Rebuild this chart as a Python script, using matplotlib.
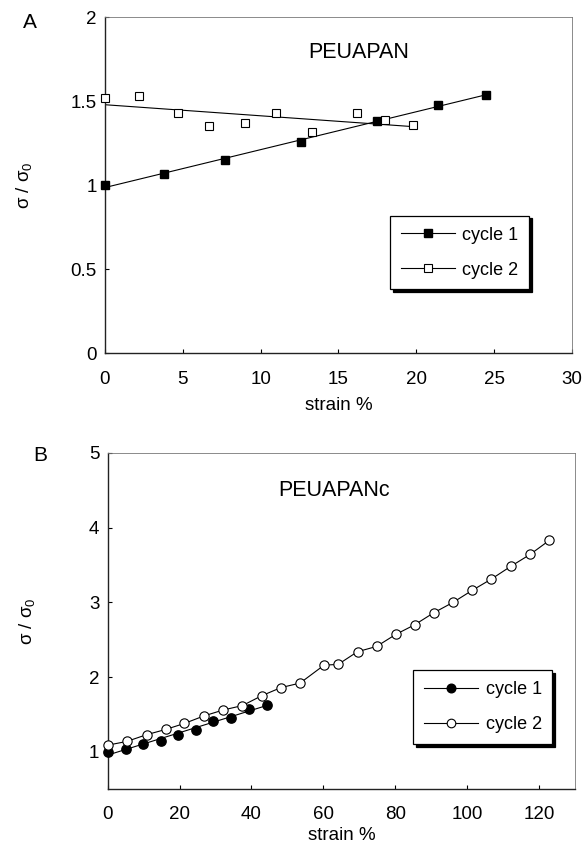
import numpy as np
import matplotlib
matplotlib.use("Agg")
import matplotlib.pyplot as plt

plt.rcParams['font.family'] = ['Liberation Sans', 'DejaVu Sans']
plt.rcParams['mathtext.fontset'] = 'custom'
plt.rcParams['mathtext.rm'] = 'Liberation Sans'
plt.rcParams['mathtext.it'] = 'Liberation Sans'

# Panel A data (PEUAPAN)
a_c1_x = [0, 3.8, 7.7, 12.6, 17.5, 21.4, 24.5]
a_c1_y = [1.00, 1.07, 1.15, 1.26, 1.38, 1.48, 1.54]
a_c2_x = [0, 2.2, 4.7, 6.7, 9.0, 11.0, 13.3, 16.2, 18.0, 19.8]
a_c2_y = [1.52, 1.53, 1.43, 1.35, 1.37, 1.43, 1.32, 1.43, 1.39, 1.36]

# Panel B data (PEUAPANc)
b_c1_x = [0, 5.0, 9.8, 14.8, 19.6, 24.6, 29.4, 34.3, 39.4, 44.2]
b_c1_y = [1.00, 1.04, 1.10, 1.15, 1.22, 1.29, 1.42, 1.46, 1.58, 1.63]
b_c2_x = [0, 5.3, 10.8, 16.1, 21.3, 26.7, 32.1, 37.5, 42.8, 48.2, 53.5, 60.2,
          64.1, 69.5, 74.8, 80.1, 85.4, 90.7, 96.1, 101.4, 106.7, 112.1, 117.5, 122.9]
b_c2_y = [1.09, 1.14, 1.23, 1.30, 1.38, 1.48, 1.56, 1.62, 1.75, 1.86, 1.92, 2.16,
          2.17, 2.34, 2.41, 2.57, 2.70, 2.86, 3.00, 3.16, 3.31, 3.48, 3.64, 3.83]

legend_labels = ["cycle 1", "cycle 2"]

FS = 13.5
fig = plt.figure(figsize=(5.83, 8.47), dpi=100)
axA = fig.add_axes([0.1801, 0.5829, 0.8010, 0.3967])
axB = fig.add_axes([0.1847, 0.0681, 0.8016, 0.3974])

def style(ax, xpad):
    for s in ['left', 'bottom']:
        ax.spines[s].set_linewidth(1.0)
        ax.spines[s].set_color('#222222')
    for s in ['top', 'right']:
        ax.spines[s].set_linewidth(0.6)
        ax.spines[s].set_color('#777777')
    ax.tick_params(direction='in', length=3, width=0.8, labelsize=FS,
                   top=False, right=False, pad=6)
    ax.tick_params(axis='x', pad=xpad)

def make_legend(ax, handles, anchor):
    leg = ax.legend(handles, legend_labels, loc='upper left',
                    bbox_to_anchor=anchor, borderaxespad=0, fontsize=13,
                    fancybox=False, shadow={'color': 'black', 'alpha': 1.0},
                    framealpha=1, edgecolor='black', handlelength=3.0,
                    borderpad=0.6, labelspacing=1.0, handletextpad=0.4)
    leg.get_frame().set_linewidth(0.9)
    return leg

lw = 0.8
# Panel A
fx = np.array([min(a_c1_x), max(a_c1_x)])
p1 = np.polyfit(a_c1_x, a_c1_y, 1)
axA.plot(fx, np.polyval(p1, fx), color='black', lw=lw)
fx2 = np.array([min(a_c2_x), max(a_c2_x)])
p2 = np.polyfit(a_c2_x, a_c2_y, 1)
axA.plot(fx2, np.polyval(p2, fx2), color='black', lw=lw)
axA.plot(a_c1_x, a_c1_y, 's', color='black', ms=6.4, mec='black', zorder=3, clip_on=False)
axA.plot(a_c2_x, a_c2_y, 's', mfc='white', mec='black', ms=6.4, mew=0.8, zorder=3, clip_on=False)
hA1, = axA.plot([], [], 's-', color='black', ms=6.2, lw=lw)
hA2, = axA.plot([], [], 's-', color='black', mfc='white', ms=6.2, lw=lw, mew=0.8)
axA.set_xlim(0, 30)
axA.set_ylim(0, 2)
axA.set_xticks([0, 5, 10, 15, 20, 25, 30])
axA.set_yticks([0, 0.5, 1, 1.5, 2])
axA.set_yticklabels(['0', '0.5', '1', '1.5', '2'])
style(axA, 13)
axA.set_xlabel('strain %', fontsize=FS, labelpad=6)
axA.set_ylabel(r'$\sigma$ / $\sigma_0$', fontsize=FS, labelpad=26)
axA.text(16.3, 1.79, 'PEUAPAN', fontsize=15.5, ha='center', va='center')
make_legend(axA, [hA1, hA2], (0.610, 0.4095))

# Panel B
fb = np.array([min(b_c1_x), max(b_c1_x)])
q1 = np.polyfit(b_c1_x, b_c1_y, 1)
axB.plot(fb, np.polyval(q1, fb), color='black', lw=lw)
axB.plot(b_c2_x, b_c2_y, '-', color='black', lw=lw)
axB.plot(b_c1_x, b_c1_y, 'o', color='black', ms=6.7, zorder=3, clip_on=False)
axB.plot(b_c2_x, b_c2_y, 'o', mfc='white', mec='black', ms=6.7, mew=0.8, zorder=3, clip_on=False)
hB1, = axB.plot([], [], 'o-', color='black', ms=6.2, lw=lw)
hB2, = axB.plot([], [], 'o-', color='black', mfc='white', ms=6.2, lw=lw, mew=0.8)
axB.set_xlim(0, 130)
axB.set_ylim(0.5, 5)
axB.set_xticks([0, 20, 40, 60, 80, 100, 120])
axB.set_yticks([1, 2, 3, 4, 5])
style(axB, 12)
axB.set_xlabel('strain %', fontsize=FS, labelpad=3)
axB.set_ylabel(r'$\sigma$ / $\sigma_0$', fontsize=FS, labelpad=37)
axB.text(63, 4.5, 'PEUAPANc', fontsize=15.5, ha='center', va='center')
make_legend(axB, [hB1, hB2], (0.654, 0.3544))

fig.text(30 / 583, 1 - 23 / 847, 'A', fontsize=15, ha='center', va='center')
fig.text(40 / 583, 1 - 455 / 847, 'B', fontsize=15, ha='center', va='center')

fig.savefig('out.png', dpi=100)
